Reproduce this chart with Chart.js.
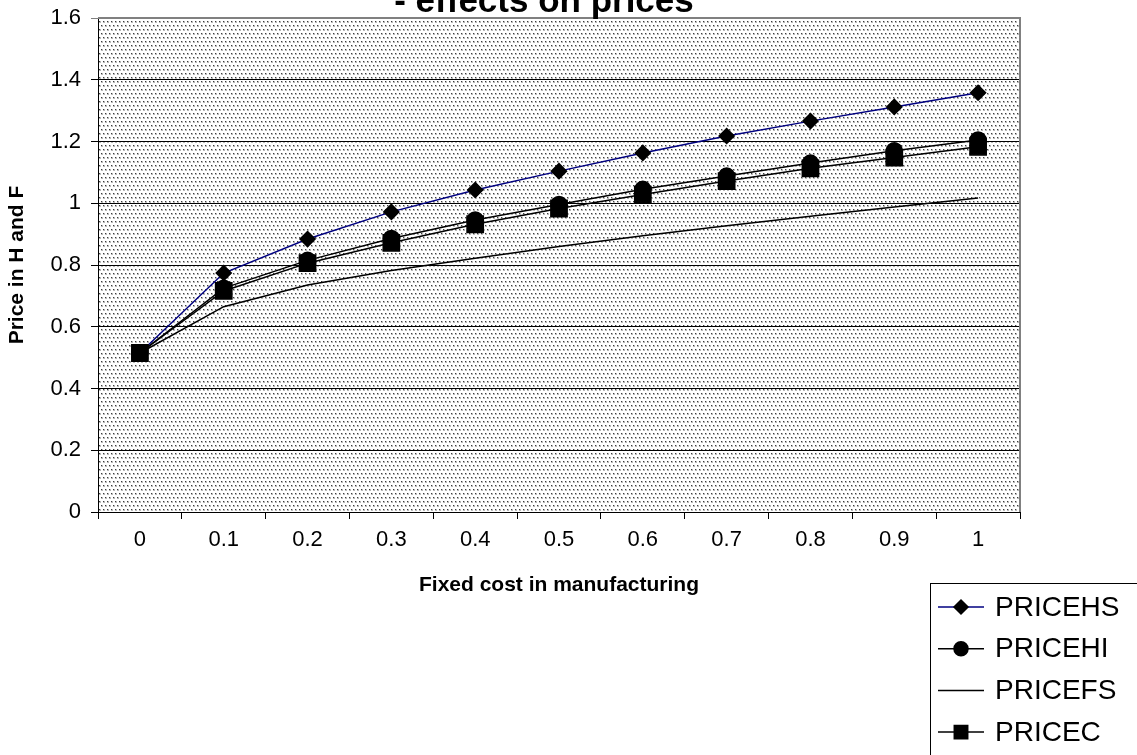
<!DOCTYPE html>
<html>
<head>
<meta charset="utf-8">
<script src="https://cdn.jsdelivr.net/npm/chart.js@4.4.0/dist/chart.umd.min.js"></script>
<style>
    html, body { margin: 0; padding: 0; background: #fff; }
    #wrap { width: 1137px; height: 755px; }
</style>
</head>
<body>
<div id="wrap"><canvas id="grafico" width="1137" height="755"></canvas></div>
<script>
// dados
var categorias = ["0", "0.1", "0.2", "0.3", "0.4", "0.5", "0.6", "0.7", "0.8", "0.9", "1"];
var priceHS = [0.515, 0.774, 0.884, 0.972, 1.043, 1.104, 1.163, 1.218, 1.266, 1.312, 1.358];
var priceHI = [0.515, 0.725, 0.815, 0.886, 0.946, 0.996, 1.045, 1.088, 1.130, 1.170, 1.205];
var priceFS = [0.515, 0.665, 0.735, 0.782, 0.822, 0.860, 0.895, 0.927, 0.958, 0.988, 1.017];
var priceC = [0.515, 0.716, 0.806, 0.872, 0.932, 0.983, 1.028, 1.072, 1.113, 1.148, 1.183];
var ticksY = [0, 0.2, 0.4, 0.6, 0.8, 1, 1.2, 1.4, 1.6];

var fonte = "'Liberation Sans', Arial, sans-serif";

var fundoPontilhado = {
    id: "fundoPontilhado",
    beforeDraw: function (chart) {
        var a = chart.chartArea;
        var c = chart.ctx;
        var tile = document.createElement("canvas");
        tile.width = 4;
        tile.height = 8;
        var t = tile.getContext("2d");
        t.fillStyle = "#ffffff";
        t.fillRect(0, 0, 4, 8);
        t.fillStyle = "#b8b8b8";
        t.fillRect(1, 1, 2, 2);
        t.fillRect(3, 5, 1, 2);
        t.fillRect(0, 5, 1, 2);
        t.fillStyle = "#3c3c3c";
        t.fillRect(1, 1, 1, 1);
        t.fillRect(3, 5, 1, 1);
        c.save();
        c.fillStyle = c.createPattern(tile, "repeat");
        c.fillRect(a.left, a.top, a.right - a.left, a.bottom - a.top);
        c.restore();
    },
    beforeDatasetsDraw: function (chart) {
        var a = chart.chartArea;
        var c = chart.ctx;
        c.save();
        c.strokeStyle = "#808080";
        c.lineWidth = 2;
        c.beginPath();
        c.moveTo(a.left, a.top);
        c.lineTo(a.right, a.top);
        c.lineTo(a.right, a.bottom);
        c.stroke();
        c.restore();
    }
};

var tituloCortado = {
    id: "tituloCortado",
    afterDraw: function (chart) {
        var c = chart.ctx;
        c.save();
        c.fillStyle = "#000";
        c.font = "bold 35px " + fonte;
        c.textAlign = "center";
        c.textBaseline = "alphabetic";
        c.fillText("- effects on prices", 544, 12);
        c.restore();
    }
};

var legendaCaixa = {
    id: "legendaCaixa",
    afterDraw: function (chart) {
        var c = chart.ctx;
        var x0 = 930, y0 = 583;
        c.save();
        c.fillStyle = "#fff";
        c.fillRect(x0, y0, 220, 190);
        c.strokeStyle = "#000";
        c.lineWidth = 1;
        c.strokeRect(x0 + 0.5, y0 + 0.5, 220, 190);
        var raios = [7, 7, 0, 9.5];
        chart.data.datasets.forEach(function (ds, k) {
            var y = 607 + k * 41.7;
            c.strokeStyle = ds.borderColor;
            c.lineWidth = 1.5;
            c.beginPath();
            c.moveTo(938, y);
            c.lineTo(984, y);
            c.stroke();
            if (raios[k] > 0) {
                c.fillStyle = "#000";
                c.strokeStyle = "#000";
                Chart.helpers.drawPoint(c, { pointStyle: ds.pointStyle, radius: raios[k], rotation: 0, borderWidth: 1 }, 961, y);
            }
            c.fillStyle = "#000";
            c.font = "28px " + fonte;
            c.textAlign = "left";
            c.textBaseline = "middle";
            c.fillText(ds.label, 995, y + 1);
        });
        c.restore();
    }
};

var ctx = document.getElementById("grafico").getContext("2d");

new Chart(ctx, {
    type: "line",
    data: {
        labels: categorias,
        datasets: [
            {
                label: "PRICEHS",
                data: priceHS,
                borderColor: "#000080",
                borderWidth: 1.5,
                pointStyle: "rectRot",
                pointRadius: 7.5,
                pointBackgroundColor: "#000",
                pointBorderColor: "#000",
                order: 3
            },
            {
                label: "PRICEHI",
                data: priceHI,
                borderColor: "#000",
                borderWidth: 1.5,
                pointStyle: "circle",
                pointRadius: 8,
                pointBackgroundColor: "#000",
                pointBorderColor: "#000",
                order: 2
            },
            {
                label: "PRICEFS",
                data: priceFS,
                borderColor: "#000",
                borderWidth: 1.5,
                pointRadius: 0,
                order: 1
            },
            {
                label: "PRICEC",
                data: priceC,
                borderColor: "#000",
                borderWidth: 1.5,
                pointStyle: "rect",
                pointRadius: 11.5,
                pointBackgroundColor: "#000",
                pointBorderColor: "#000",
                order: 0
            }
        ]
    },
    options: {
        responsive: false,
        animation: false,
        layout: { padding: { left: 0, top: 18, right: 117, bottom: 0 } },
        plugins: {
            legend: { display: false },
            tooltip: { enabled: false },
            title: { display: false }
        },
        elements: { line: { tension: 0 } },
        scales: {
            x: {
                offset: true,
                afterFit: function (scale) { scale.height = 243; },
                grid: { offset: true, drawOnChartArea: false, drawTicks: true, tickLength: 7, color: "#000" },
                border: { color: "#000", width: 1 },
                ticks: { color: "#000", font: { family: fonte, size: 22 }, padding: 8, maxRotation: 0 },
                title: {
                    display: true,
                    text: "Fixed cost in manufacturing",
                    color: "#000",
                    font: { family: fonte, size: 21, weight: "bold" },
                    padding: { top: 0, bottom: 157 }
                }
            },
            y: {
                min: 0,
                max: 1.6,
                afterFit: function (scale) {
                    scale.width = 98;
                    scale.paddingTop = 0;
                    scale.paddingBottom = 0;
                },
                afterBuildTicks: function (scale) {
                    scale.ticks = ticksY.map(function (v) { return { value: v }; });
                },
                grid: {
                    drawTicks: true,
                    tickLength: 7,
                    color: function (c) { return c.tick && c.tick.value === 1.6 ? "#808080" : "#000"; }
                },
                border: { color: "#000", width: 1 },
                ticks: {
                    color: "#000",
                    font: { family: fonte, size: 22 },
                    padding: 10,
                    callback: function (v) { return String(Math.round(v * 10) / 10); }
                },
                title: {
                    display: true,
                    text: "Price in H and F",
                    color: "#000",
                    font: { family: fonte, size: 21, weight: "bold" },
                    padding: { top: 5, bottom: 0 }
                }
            }
        }
    },
    plugins: [fundoPontilhado, tituloCortado, legendaCaixa]
});
</script>
</body>
</html>
